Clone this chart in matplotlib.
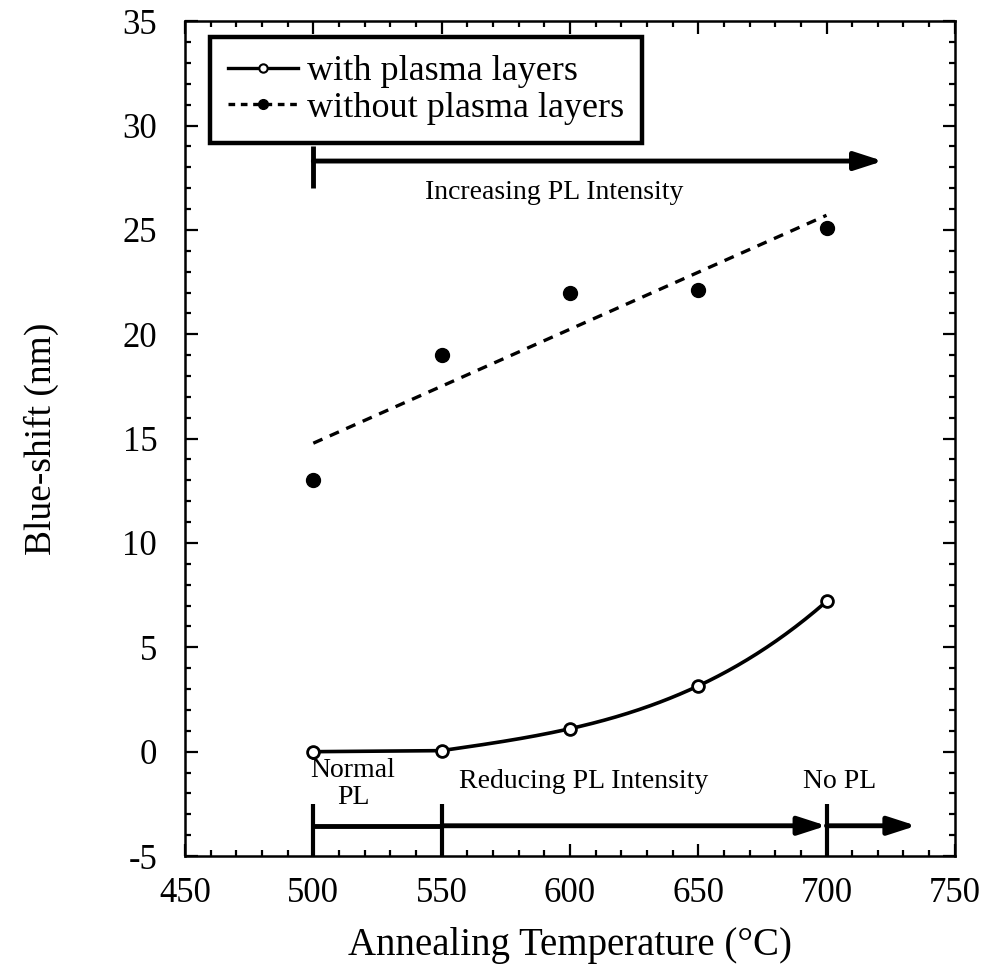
import numpy as np
import matplotlib
matplotlib.use("Agg")
import matplotlib.pyplot as plt
from matplotlib.lines import Line2D
from matplotlib.ticker import MultipleLocator

plt.rcParams['font.family'] = ['Liberation Serif', 'DejaVu Serif']
plt.rcParams['axes.unicode_minus'] = False

# ---- data ----
temps = [500, 550, 600, 650, 700]
with_plasma = [0.0, 0.05, 1.1, 3.15, 7.2]
without_plasma = [13.0, 19.0, 22.0, 22.1, 25.1]

legend_labels = ["with plasma layers", "without plasma layers"]
x_label = "Annealing Temperature (°C)"
y_label = "Blue-shift (nm)"
xticks = [450, 500, 550, 600, 650, 700, 750]
yticks = [-5, 0, 5, 10, 15, 20, 25, 30, 35]

fig = plt.figure(figsize=(9.92, 9.64), dpi=100)
ax = fig.add_axes([0.1865, 0.112, 0.776, 0.866])

# smooth curve for "with plasma layers": flat first segment, cubic through the rest
t = np.array(temps, dtype=float)
w = np.array(with_plasma, dtype=float)
coef = np.polyfit(t[1:], w[1:], 3)
xs = np.linspace(t[1], t[-1], 200)
curve_x = np.concatenate([[t[0]], xs])
curve_y = np.concatenate([[w[0]], np.polyval(coef, xs)])
ax.plot(curve_x, curve_y, color='black', lw=2.6, zorder=2)
ax.plot(t, w, linestyle='none', marker='o', ms=8.5, mfc='white', mec='black', mew=2.0, zorder=3)

# linear fit for "without plasma layers"
wo = np.array(without_plasma, dtype=float)
lin = np.polyfit(t, wo, 1)
fx = np.array([t[0], t[-1]])
ax.plot(fx, np.polyval(lin, fx), color='black', lw=2.4, dashes=(3.0, 2.4), zorder=2)
ax.plot(t, wo, linestyle='none', marker='o', ms=10, mfc='black', mec='black', zorder=3)

# axes
ax.set_xlim(450, 750)
ax.set_ylim(-5, 35)
ax.set_xticks(xticks)
ax.set_yticks(yticks)
ax.xaxis.set_minor_locator(MultipleLocator(10))
ax.yaxis.set_minor_locator(MultipleLocator(1))
ax.tick_params(which='both', direction='in', top=True, right=True, width=1.6, color='black')
ax.tick_params(which='major', length=9)
ax.tick_params(which='minor', length=4.5)
ax.tick_params(axis='x', which='major', labelsize=25, pad=15)
ax.tick_params(axis='y', which='major', labelsize=25, pad=20)
for s in ax.spines.values():
    s.set_linewidth(1.8)
ax.set_xlabel(x_label, fontsize=28, labelpad=12)
ax.set_ylabel(y_label, fontsize=27, labelpad=46)

# annotations
arrow_kw = dict(arrowstyle='-|>,head_length=1.7,head_width=0.55', lw=3.5, color='black',
                shrinkA=0, shrinkB=0)
# top arrow
ax.annotate('', xy=(722, 28.3), xytext=(500, 28.3), arrowprops=arrow_kw)
ax.plot([500, 500], [27.0, 29.0], color='black', lw=3.5, solid_capstyle='butt')
ax.text(594, 26.8, "Increasing PL Intensity", fontsize=20, ha='center', va='center')

# bottom arrows
ybar = -3.55
ax.plot([500, 550], [ybar, ybar], color='black', lw=3.5, solid_capstyle='butt')
ax.annotate('', xy=(700, ybar), xytext=(550, ybar), arrowprops=arrow_kw)
ax.annotate('', xy=(735, ybar), xytext=(700, ybar), arrowprops=arrow_kw)
for xb in [500, 550, 700]:
    ax.plot([xb, xb], [-5, -2.5], color='black', lw=3, solid_capstyle='butt')
ax.text(515.5, -1.55, "Normal\nPL", fontsize=20, ha='center', va='center', linespacing=1.15)
ax.text(605.5, -1.45, "Reducing PL Intensity", fontsize=20, ha='center', va='center')
ax.text(705, -1.45, "No PL", fontsize=20, ha='center', va='center')

# legend
handles = [
    Line2D([], [], color='black', lw=2.4, marker='o', ms=6, mfc='white', mec='black', mew=1.5),
    Line2D([], [], color='black', lw=2.4, dashes=(2.0, 1.7), marker='o', ms=7, mfc='black', mec='black'),
]
leg = ax.legend(handles, legend_labels, loc='upper left', bbox_to_anchor=(0.032, 0.981),
                fontsize=26, frameon=True, fancybox=False, framealpha=1,
                edgecolor='black', borderpad=0.5, labelspacing=0.08,
                handlelength=1.95, handletextpad=0.25, borderaxespad=0)
leg.get_frame().set_linewidth(3.2)

fig.savefig("out.png", dpi=100)
